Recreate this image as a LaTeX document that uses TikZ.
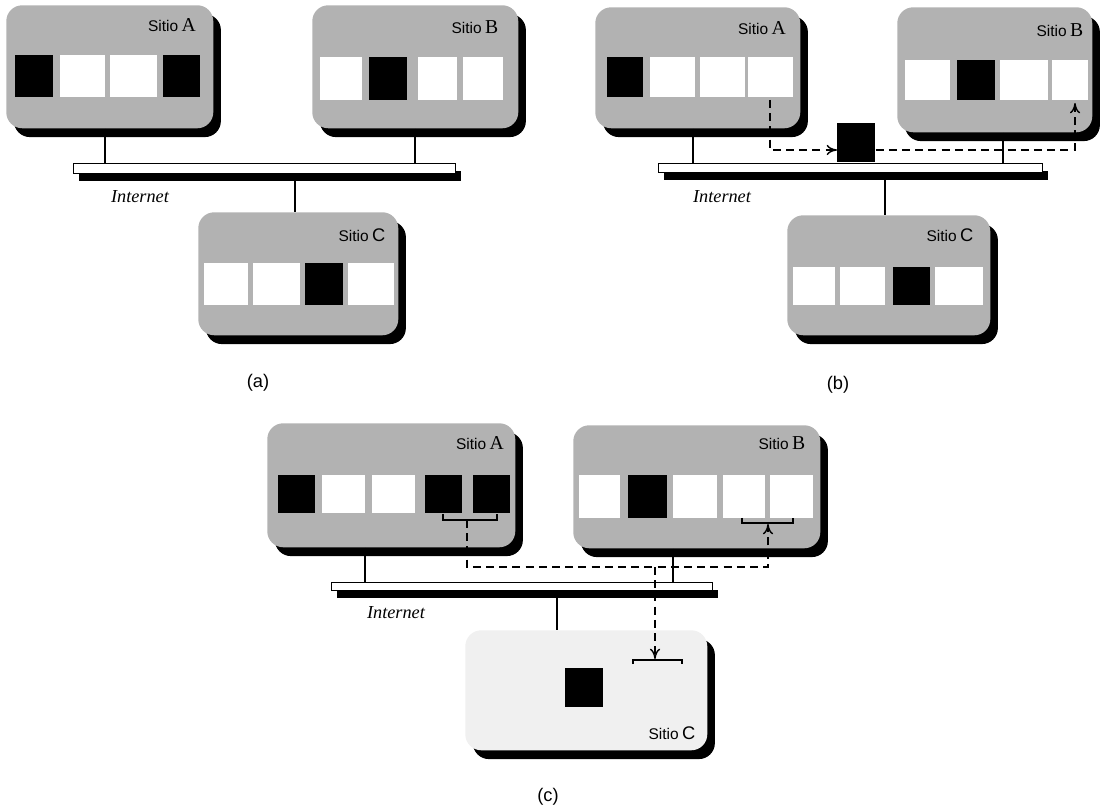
\documentclass[tikz,border=0pt]{standalone}
\usepackage{fontspec}
\setmainfont{Liberation Serif}
\setsansfont{Liberation Sans}
\usetikzlibrary{arrows.meta,shadows}

\newcommand\px{0.25mm}
\newcommand\sitio[1]{{\fontsize{11}{13}\sffamily Sitio} {\fontsize{14}{15}\selectfont #1}}

\begin{document}
\begin{tikzpicture}[x=0.25mm, y=-0.25mm,
	site/.style={anchor=north west, rounded corners=4mm, fill=black!30, inner sep=0pt,
		drop shadow={shadow xshift=1.9mm, shadow yshift=-2.2mm, fill=black, opacity=1}},
	bus/.style={anchor=north west, draw, fill=white, inner sep=0pt,
		drop shadow={shadow xshift=1.4mm, shadow yshift=-1.9mm, fill=black, opacity=1}},
	lan/.style={line width=1pt},
	msg/.style={line width=1pt, dash pattern=on 2mm off 1.3mm},
	tag/.style={inner sep=0pt},
	net/.style={inner sep=0pt, font=\fontsize{13}{15}\itshape},
	panel/.style={inner sep=0pt, font=\fontsize{13}{15}\sffamily}]
	\useasboundingbox (0,0) rectangle (1101,809);

	% (a)
	\node[site, minimum width=207*\px, minimum height=123*\px] (aA) at (6,5) {};
	\node[site, minimum width=206*\px, minimum height=123*\px] (aB) at (312,5) {};
	\node[site, minimum width=200*\px, minimum height=123*\px] (aC) at (198,212) {};
	\node[bus, minimum width=382*\px, minimum height=10*\px] (aBar) at (73,163) {};
	\foreach \xa/\xb/\c in {15/53/black, 60/105/white, 110/157/white, 163/200/black}
		\fill[\c] (\xa,55) rectangle (\xb,97);
	\foreach \xa/\xb/\c in {320/362/white, 369/407/black, 418/457/white, 463/503/white}
		\fill[\c] (\xa,57) rectangle (\xb,100);
	\foreach \xa/\xb/\c in {204/248/white, 253/300/white, 305/343/black, 348/394/white}
		\fill[\c] (\xa,263) rectangle (\xb,305);
	\coordinate (aAx) at (105,0);
	\coordinate (aBx) at (415,0);
	\coordinate (aCx) at (295,0);
	\draw[lan] (aA.south -| aAx) -- (aBar.north -| aAx);
	\draw[lan] (aB.south -| aBx) -- (aBar.north -| aBx);
	\draw[lan] (aBar.south -| aCx) -- (aC.north -| aCx);
	\node[tag] (aAt) at (172,25) {\sitio{A}};
	\node[tag] (aBt) at (475,27) {\sitio{B}};
	\node[tag] (aCt) at (362,235) {{\fontsize{11}{13}\sffamily Sitio} {\fontsize{13}{15}\sffamily C}};
	\node[net] (aNet) at (140,197) {Internet};
	\node[panel] (aCap) at (258,383) {(a)};

	% (b)
	\node[site, minimum width=205*\px, minimum height=121*\px] (bA) at (595,7) {};
	\node[site, minimum width=195*\px, minimum height=125*\px] (bB) at (897,7) {};
	\node[site, minimum width=203*\px, minimum height=120*\px] (bC) at (787,215) {};
	\node[bus, minimum width=384*\px, minimum height=9*\px] (bBar) at (658,163) {};
	\foreach \xa/\xb/\c in {607/643/black, 650/695/white, 700/745/white, 748/793/white}
		\fill[\c] (\xa,57) rectangle (\xb,97);
	\foreach \xa/\xb/\c in {905/950/white, 957/995/black, 1000/1048/white, 1052/1088/white}
		\fill[\c] (\xa,60) rectangle (\xb,100);
	\foreach \xa/\xb/\c in {793/835/white, 840/885/white, 893/930/black, 935/983/white}
		\fill[\c] (\xa,267) rectangle (\xb,305);
	\coordinate (bAx) at (693,0);
	\coordinate (bBx) at (1003,0);
	\coordinate (bCx) at (885,0);
	\draw[lan] (bA.south -| bAx) -- (bBar.north -| bAx);
	\draw[lan] (bB.south -| bBx) -- (bBar.north -| bBx);
	\draw[lan] (bBar.south -| bCx) -- (bC.north -| bCx);
	\node[anchor=north west, fill=black, minimum width=38*\px, minimum height=39*\px,
		inner sep=0pt] (bPkt) at (837,123) {};
	\coordinate (bSrc) at (770,100);
	\coordinate (bTurn) at (770,150);
	\coordinate (bDst) at (1075,103);
	\draw[msg, -{To[length=2.6mm, width=2.6mm]}] (bSrc) -- (bTurn) -- (bTurn -| bPkt.west);
	\draw[msg, -{To[length=2.6mm, width=2.6mm]}] (bTurn -| bPkt.east) -| (bDst);
	\node[tag] (bAt) at (762,28) {\sitio{A}};
	\node[tag] (bBt) at (1060,30) {\sitio{B}};
	\node[tag] (bCt) at (950,235) {{\fontsize{11}{13}\sffamily Sitio} {\fontsize{13}{15}\sffamily C}};
	\node[net] (bNet) at (722,197) {Internet};
	\node[panel] (bCap) at (838,385) {(b)};

	% (c)
	\node[site, minimum width=248*\px, minimum height=124*\px] (cA) at (267,423) {};
	\node[site, minimum width=247*\px, minimum height=123*\px] (cB) at (573,425) {};
	\node[site, fill=black!6, minimum width=242*\px, minimum height=120*\px] (cC) at (465,630) {};
	\node[bus, minimum width=381*\px, minimum height=8*\px] (cBar) at (331,582) {};
	\foreach \xa/\xb/\c in {278/315/black, 322/365/white, 372/415/white, 425/462/black, 473/510/black}
		\fill[\c] (\xa,475) rectangle (\xb,513);
	\foreach \xa/\xb/\c in {579/620/white, 628/667/black, 673/717/white, 723/765/white, 770/813/white}
		\fill[\c] (\xa,475) rectangle (\xb,518);
	\fill (565,668) rectangle (603,707);
	\coordinate (cAx) at (365,0);
	\coordinate (cBx) at (673,0);
	\coordinate (cCx) at (557,0);
	\draw[lan] (cA.south -| cAx) -- (cBar.north -| cAx);
	\draw[lan] (cB.south -| cBx) -- (cBar.north -| cBx);
	\draw[lan] (cBar.south -| cCx) -- (cC.north -| cCx);
	% brackets
	\draw[lan] (443,514) -- (443,520) -- (497,520) -- (497,514);
	\draw[lan] (742,518) -- (742,523) -- (793,523) -- (793,518);
	\draw[lan] (633,664) -- (633,660) -- (682,660) -- (682,664);
	\coordinate (cAbr) at (467,520);
	\coordinate (cTurn) at (467,567);
	\coordinate (cFork) at (655,567);
	\coordinate (cBbr) at (768,524);
	\coordinate (cCbr) at (655,659);
	\draw[msg, -{To[length=2.6mm, width=2.6mm]}] (cAbr) -- (cTurn) -| (cBbr);
	\draw[msg, -{To[length=2.6mm, width=2.6mm]}] (cFork) -- (cCbr);
	\node[tag] (cAt) at (480,443) {\sitio{A}};
	\node[tag] (cBt) at (782,443) {\sitio{B}};
	\node[tag] (cCt) at (672,733) {{\fontsize{11}{13}\sffamily Sitio} {\fontsize{13}{15}\sffamily C}};
	\node[net] (cNet) at (396,613) {Internet};
	\node[panel] (cCap) at (548,797) {(c)};
\end{tikzpicture}
\end{document}
